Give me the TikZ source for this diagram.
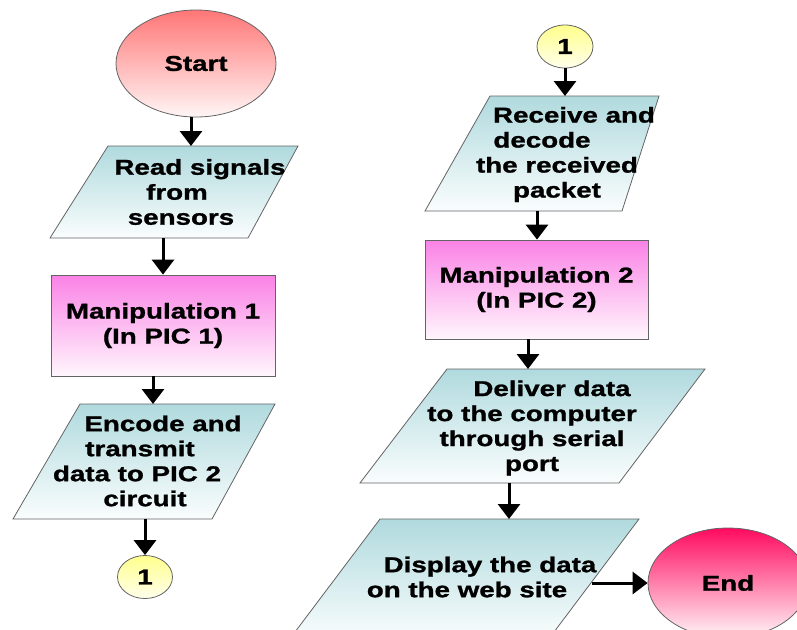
\documentclass[tikz,border=0pt]{standalone}
\usepackage{fontspec}
\newfontfamily\lbl{Liberation Sans}[FakeStretch=1.29,FakeBold=1.2]
\usetikzlibrary{arrows.meta,shapes.geometric}
\definecolor{edgegray}{RGB}{100,100,100}
\definecolor{startT}{RGB}{255,118,118}
\definecolor{startB}{RGB}{255,246,246}
\definecolor{paraT}{RGB}{176,218,222}
\definecolor{paraB}{RGB}{250,253,253}
\definecolor{rectT}{RGB}{250,130,230}
\definecolor{rectB}{RGB}{255,246,252}
\definecolor{connT}{RGB}{255,255,140}
\definecolor{connB}{RGB}{255,255,236}
\definecolor{endT}{RGB}{255,10,95}
\definecolor{endB}{RGB}{255,246,248}
\begin{document}
\begin{tikzpicture}[x=1pt,y=-1pt,
  txt/.style={font=\lbl\bfseries\fontsize{21.5}{25}\selectfont, align=center, inner sep=0pt, text=black},
  outline/.style={draw=edgegray, line width=0.8pt},
  iobox/.style={outline, top color=paraT, bottom color=paraB},
  procbox/.style={rectangle, outline, top color=rectT, bottom color=rectB, txt},
  terminal/.style={ellipse, outline, inner sep=0pt, txt},
  conn/.style={ellipse, outline, top color=connT, bottom color=connB, inner sep=0pt, txt, minimum width=56pt, minimum height=43pt},
  arr/.style={line width=3pt, draw=black, -{Triangle[width=22pt,length=15pt]}}
]
\useasboundingbox (0,0) rectangle (797,629);
\clip (0,0) rectangle (797,629);
\fill[white] (0,0) rectangle (797,629);

% ---------------- left column ----------------
\node[terminal, top color=startT, bottom color=startB, minimum width=160pt, minimum height=107pt] (start) at (196,63.5) {Start};

\path[iobox] (108,146) -- (298,146) -- (248,238) -- (50,238) -- cycle;
\node[txt] (read) at (190,192) {\rule{20pt}{0pt}Read signals\\from\rule{26pt}{0pt}\\sensors\rule{18pt}{0pt}};
\coordinate (readN) at (191,146);
\coordinate (readS) at (163,238);

\node[procbox, minimum width=224pt, minimum height=101pt] (manip1) at (163,325.5) {Manipulation 1\\(In PIC 1)};

\path[iobox] (80,404) -- (275,404) -- (212,519) -- (13,519) -- cycle;
\node[txt] (encode) at (150,461) {\rule{26pt}{0pt}Encode and\\transmit\rule{20pt}{0pt}\\data to PIC 2\rule{26pt}{0pt}\\circuit\rule{10pt}{0pt}};
\coordinate (encodeN) at (153,404);
\coordinate (encodeS) at (145,519);

\node[conn, minimum width=55pt] (connA) at (145,577) {1};

% ---------------- right column ----------------
\node[conn] (connB) at (565,46.5) {1};

\path[iobox] (490,96) -- (659,96) -- (622,211) -- (425,211) -- cycle;
\node[txt] (receive) at (557,154.5) {\rule{34pt}{0pt}Receive and\\decode\rule{30pt}{0pt}\\the received\\packet};
\coordinate (receiveN) at (565,96);
\coordinate (receiveS) at (537,211);

\node[procbox, minimum width=223pt, minimum height=99pt] (manip2) at (536.5,289.5) {Manipulation 2\\(In PIC 2)};

\path[iobox] (447,369) -- (705,369) -- (619,483) -- (360,483) -- cycle;
\node[txt] (deliver) at (532,428) {\rule{40pt}{0pt}Deliver data\\to the computer\\through serial\\port};
\coordinate (deliverN) at (528,369);
\coordinate (deliverS) at (509,483);

\path[iobox] (380,519) -- (639,519) -- (548,640) -- (289,640) -- cycle;
\node[txt] (display) at (478,577) {\rule{24pt}{0pt}Display the data\\on the web site\rule{22pt}{0pt}};
\coordinate (displayN) at (509,519);
\coordinate (displayE) at (592,583);

\node[terminal, top color=endT, bottom color=endB, minimum width=160pt, minimum height=110pt] (end) at (728,583) {End};

% ---------------- connectors ----------------
\draw[arr] (start.south -| readN) -- (readN);
\draw[arr] (readS) -- (manip1.north);
\draw[arr] (manip1.south -| encodeN) -- (encodeN);
\draw[arr] (encodeS) -- (connA.north);
\draw[arr] (connB.south) -- (receiveN);
\draw[arr] (receiveS) -- (manip2.north -| receiveS);
\draw[arr] (manip2.south -| deliverN) -- (deliverN);
\draw[arr] (deliverS) -- (displayN);
\draw[arr] (displayE) -- (end.west);
\end{tikzpicture}
\end{document}
